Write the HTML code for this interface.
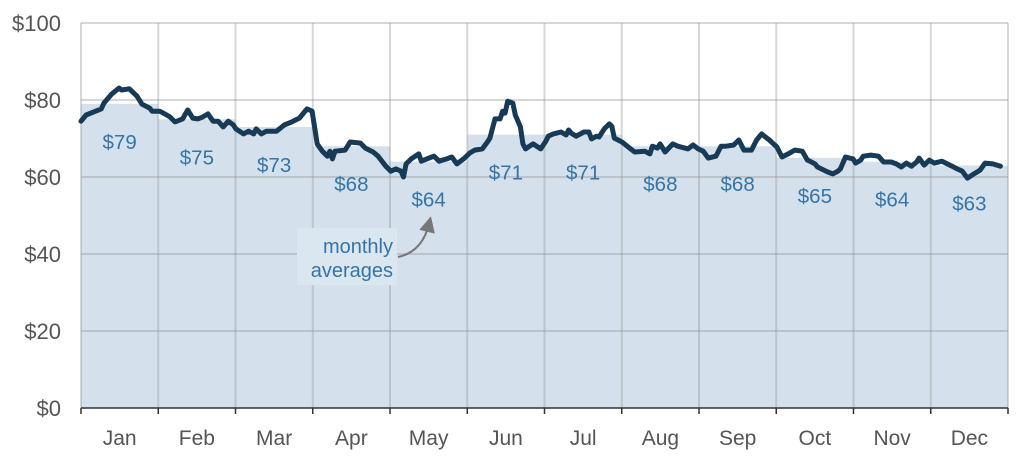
<!DOCTYPE html>
<html><head><meta charset="utf-8"><style>
html,body{margin:0;padding:0;background:#fff;}
svg text{font-family:"Liberation Sans",Arial,sans-serif;}
</style></head><body>
<svg id="chart" width="1024" height="468" xmlns="http://www.w3.org/2000/svg"></svg>
<script>
const months = ["Jan","Feb","Mar","Apr","May","Jun","Jul","Aug","Sep","Oct","Nov","Dec"];
const monthlyAverages = [79,75,73,68,64,71,71,68,68,65,64,63];
const yTicks = [0,20,40,60,80,100];
const yTickLabels = ["$0","$20","$40","$60","$80","$100"];
const days = [0,2,5,8,9,12,15,16,19,22,24,27,28,31,33,35,37,40,42,44,46,48,50,52,54,56,58,60,61,64,66,68,69,71,73,77,80,83,86,89,91,93,95,97,98,99,100,104,106,110,112,115,117,120,122,124,126,127,128,130,133,134,137,139,141,144,146,148,151,153,155,158,160,161,163,165,166,167,168,170,171,173,174,175,178,181,183,184,186,189,191,192,193,195,198,200,201,203,204,206,208,209,210,213,216,218,222,224,225,227,228,230,233,235,239,241,243,245,247,250,252,254,257,259,261,264,266,268,271,274,276,279,281,284,286,287,289,290,294,296,298,299,301,304,305,307,308,311,314,316,319,321,323,325,327,329,330,332,334,336,339,343,345,347,349,352,354,356,359,362];
const prices = [74.5,76.1,76.9,77.7,79.2,81.5,83.1,82.6,82.9,81.0,78.9,77.9,77.1,77.1,76.4,75.6,74.3,75.1,77.4,75.3,75.1,75.6,76.4,74.5,74.5,73.0,74.5,73.5,72.5,71.2,71.9,71.2,72.5,71.2,71.9,71.9,73.5,74.3,75.3,77.7,77.1,68.6,66.7,65.4,66.7,64.7,66.7,67.0,69.1,68.8,67.5,66.5,65.4,62.8,61.5,62.1,61.5,60.0,63.4,64.7,66.0,64.1,64.9,65.4,64.1,64.7,65.2,63.4,64.9,66.2,67.0,67.3,69.1,70.1,75.1,75.1,77.1,76.6,79.7,79.2,76.1,73.0,68.6,67.3,68.6,67.3,69.3,70.6,71.2,71.7,70.9,72.2,71.4,70.6,71.7,71.7,69.9,70.6,70.4,72.5,73.8,73.2,70.1,69.1,67.5,66.5,66.7,66.0,68.0,67.5,68.6,66.5,68.6,68.0,67.3,68.3,67.3,66.7,64.9,65.4,68.0,68.0,68.3,69.6,67.0,67.0,69.6,71.2,69.6,67.8,65.2,66.2,67.0,66.7,64.4,64.1,63.4,62.6,61.3,60.8,61.5,62.1,65.2,64.7,63.6,64.4,65.4,65.7,65.4,63.9,63.9,63.4,62.6,63.6,62.8,63.9,64.9,63.1,64.4,63.6,64.1,62.8,62.1,61.5,59.7,61.0,61.8,63.6,63.4,62.8];

const NS="http://www.w3.org/2000/svg";
const svg=document.getElementById('chart');
const L=81,R=1008,T=23,B=408;
const x=d=>L+(d/365)*(R-L);
const mw=(R-L)/12;
const y=v=>B-(v/100)*(B-T);
function mk(tag,attrs,parent){const e=document.createElementNS(NS,tag);for(const k in attrs)e.setAttribute(k,attrs[k]);(parent||svg).appendChild(e);return e;}

monthlyAverages.forEach((v,i)=>{
  const r=mk('rect',{x:L+i*mw,y:y(v),width:mw,height:B-y(v),fill:'#d4e1ec'});
  
  
});
yTicks.forEach((t,i)=>{
  if(t>0){const g=mk('line',{x1:L,x2:R,y1:y(t),y2:y(t),stroke:'rgba(140,140,140,0.35)','stroke-width':2});
  
  }
  const tx=mk('text',{x:61,y:y(t)+8,'text-anchor':'end','font-size':22,fill:'#555'});
  tx.textContent=yTickLabels[i];
  
  
});
for(let i=0;i<=12;i++){
  const g=mk('line',{x1:L+i*mw,x2:L+i*mw,y1:T,y2:B,stroke:'rgba(140,140,140,0.35)','stroke-width':2});
  
  
  const tk=mk('line',{x1:L+i*mw,x2:L+i*mw,y1:B,y2:B+6,stroke:'#333','stroke-width':1.5});
  
  
}
const ax=mk('line',{x1:L,x2:R,y1:B,y2:B,stroke:'#333','stroke-width':1.5});


months.forEach((m,i)=>{
  const t=mk('text',{x:L+(i+0.5)*mw,y:445,'text-anchor':'middle','font-size':21,fill:'#555'});
  t.textContent=m;
  
  
  const a=mk('text',{x:L+(i+0.5)*mw,y:y(monthlyAverages[i])+45,'text-anchor':'middle','font-size':20.5,fill:'#3574a8'});
  a.textContent='$'+monthlyAverages[i];
  
  
});
const pts=days.map((d,i)=>x(d).toFixed(1)+','+y(prices[i]).toFixed(1)).join(' ');
const pl=mk('polyline',{points:pts,fill:'none',stroke:'#173a56','stroke-width':5,'stroke-linejoin':'round','stroke-linecap':'round'});


</script>
<svg style="position:absolute;left:0;top:0" width="1024" height="468">
  <defs><marker id="ah" markerWidth="8" markerHeight="8" refX="4" refY="4" orient="auto"><path d="M0,0 L8,4 L0,8 z" fill="#777"/></marker></defs>
  <rect x="297" y="228" width="100" height="57" fill="#dae6f0"/>
  <text x="393" y="253" text-anchor="end" font-size="20" fill="#3574a8" font-family="Liberation Sans, sans-serif">monthly</text>
  <text x="393" y="277" text-anchor="end" font-size="20" fill="#3574a8" font-family="Liberation Sans, sans-serif">averages</text>
  <path d="M398,257 Q422,252 429,224" fill="none" stroke="#777" stroke-width="2" marker-end="url(#ah)"/>
</svg>
</body></html>
